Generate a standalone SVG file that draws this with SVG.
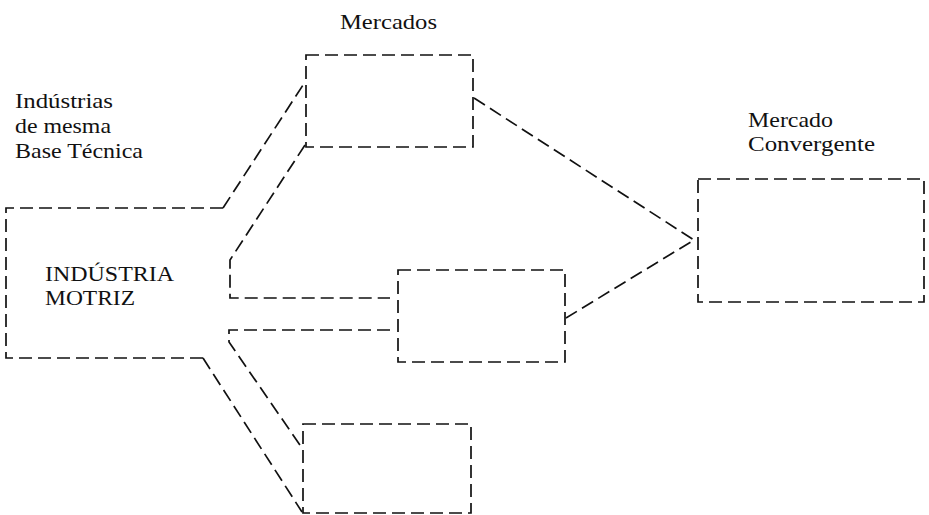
<svg xmlns="http://www.w3.org/2000/svg" width="929" height="515" viewBox="0 0 929 515">
  <style>
    .dash { fill: none; stroke: #111; stroke-width: 1.7; stroke-dasharray: 13 6; stroke-linecap: butt; stroke-linejoin: miter; }
    .lbl { font-family: "Liberation Serif", "Times New Roman", serif; font-size: 22px; fill: #111; }
  </style>
  <rect width="929" height="515" fill="#fff"/>

  <!-- headings -->
  <g id="label-mercados">
    <text class="lbl" x="340" y="29" textLength="97" lengthAdjust="spacingAndGlyphs">Mercados</text>
  </g>
  <g id="label-base-tecnica">
    <text class="lbl" x="15" y="108" textLength="98" lengthAdjust="spacingAndGlyphs">Indústrias</text>
    <text class="lbl" x="15" y="133" textLength="96" lengthAdjust="spacingAndGlyphs">de mesma</text>
    <text class="lbl" x="15" y="158" textLength="128" lengthAdjust="spacingAndGlyphs">Base Técnica</text>
  </g>

  <!-- driving industry: open on its right side where the branches leave -->
  <g id="industria-motriz">
    <path class="dash" d="M223,208 H6 V358 H203"/>
    <text class="lbl" x="45" y="281" textLength="129" lengthAdjust="spacingAndGlyphs">INDÚSTRIA</text>
    <text class="lbl" x="45" y="305" textLength="90" lengthAdjust="spacingAndGlyphs">MOTRIZ</text>
  </g>

  <g id="mercado-1">
    <rect class="dash" x="306" y="55" width="167" height="92"/>
  </g>
  <g id="mercado-2">
    <rect class="dash" x="398" y="270" width="167" height="92"/>
  </g>
  <g id="mercado-3">
    <rect class="dash" x="303" y="424" width="168" height="89"/>
  </g>

  <g id="mercado-convergente">
    <rect class="dash" x="698" y="179" width="226" height="123"/>
    <text class="lbl" x="748" y="127" textLength="85" lengthAdjust="spacingAndGlyphs">Mercado</text>
    <text class="lbl" x="748" y="151" textLength="127" lengthAdjust="spacingAndGlyphs">Convergente</text>
  </g>

  <!-- branch channels and converging lines -->
  <g id="connectors">
    <path class="dash" d="M223,208 L305,82"/>
    <path class="dash" d="M305,145 L230,260 V298 H390"/>
    <path class="dash" d="M390,330 H229 V342 L302,448"/>
    <path class="dash" d="M203,358 L302,512"/>
    <path class="dash" d="M474,98 L694,240 L566,318"/>
  </g>
</svg>
